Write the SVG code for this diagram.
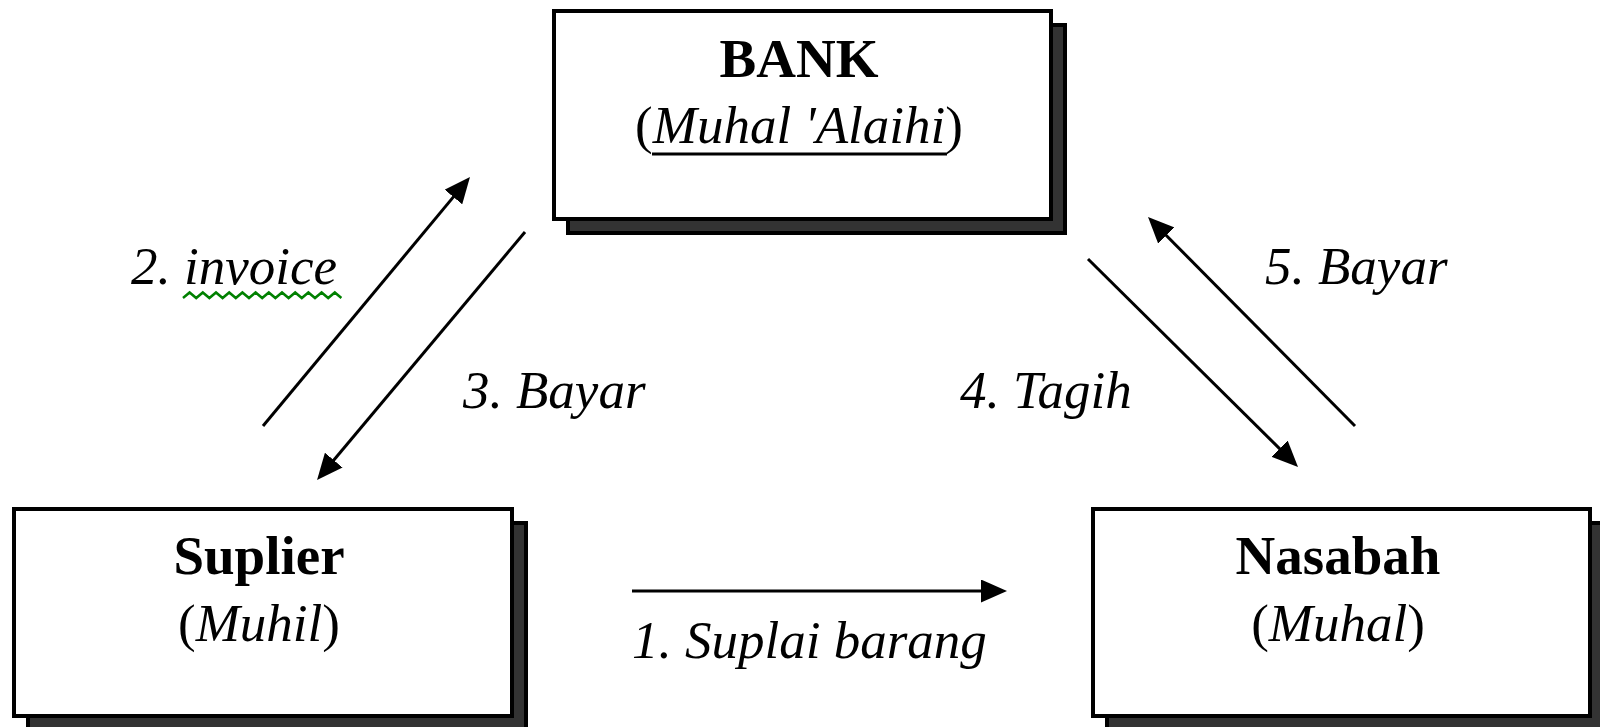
<svg xmlns="http://www.w3.org/2000/svg" width="1600" height="727" viewBox="0 0 1600 727">
  <defs>
    <style>
      .box { fill: #ffffff; stroke: #000000; stroke-width: 4; }
      .shadow { fill: #333333; stroke: #000000; stroke-width: 4; }
      .title { font-family: "Liberation Serif", "Times New Roman", serif; font-weight: bold; font-size: 55px; fill: #000; text-anchor: middle; }
      .sub { font-family: "Liberation Serif", "Times New Roman", serif; font-style: italic; font-size: 53px; fill: #000; text-anchor: middle; }
      .up { font-style: normal; }
      .lbl { font-family: "Liberation Serif", "Times New Roman", serif; font-style: italic; font-size: 53px; fill: #000; }
      .conn { stroke: #000000; stroke-width: 3; fill: none; marker-end: url(#ah); }
      .uline { stroke: #000000; stroke-width: 3; }
      .wavy { stroke: #008000; stroke-width: 2.5; fill: none; }
    </style>
    <marker id="ah" markerUnits="userSpaceOnUse" viewBox="0 0 26 23" markerWidth="26" markerHeight="23" refX="6" refY="11.5" orient="auto">
      <path d="M0,0 L26,11.5 L0,23 z" fill="#000000"/>
    </marker>
  </defs>

  <rect width="1600" height="727" fill="#ffffff"/>

  <g id="node-bank">
    <rect class="shadow" x="568" y="25" width="497" height="208"/>
    <rect class="box" x="554" y="11" width="497" height="208"/>
    <text class="title" x="799" y="77">BANK</text>
    <text class="sub" x="799" y="143"><tspan class="up">(</tspan>Muhal 'Alaihi<tspan class="up">)</tspan></text>
    <line class="uline" x1="652" y1="154" x2="947" y2="154"/>
  </g>

  <g id="node-suplier">
    <rect class="shadow" x="28" y="523" width="498" height="207"/>
    <rect class="box" x="14" y="509" width="498" height="207"/>
    <text class="title" x="259" y="574">Suplier</text>
    <text class="sub" x="259" y="641"><tspan class="up">(</tspan>Muhil<tspan class="up">)</tspan></text>
  </g>

  <g id="node-nasabah">
    <rect class="shadow" x="1107" y="523" width="497" height="207"/>
    <rect class="box" x="1093" y="509" width="497" height="207"/>
    <text class="title" x="1338" y="574">Nasabah</text>
    <text class="sub" x="1338" y="641"><tspan class="up">(</tspan>Muhal<tspan class="up">)</tspan></text>
  </g>

  <g id="connectors">
    <line class="conn" x1="632" y1="591" x2="987" y2="591"/>
    <line class="conn" x1="263" y1="426" x2="457.2" y2="192.4"/>
    <line class="conn" x1="525" y1="232" x2="329.9" y2="464.7"/>
    <line class="conn" x1="1088" y1="259" x2="1283.8" y2="452.9"/>
    <line class="conn" x1="1355" y1="426" x2="1162.1" y2="231.2"/>
  </g>

  <g id="edge-labels">
    <text class="lbl" x="632" y="658">1. Suplai barang</text>
    <text class="lbl" x="131" y="284">2. invoice</text>
    <path class="wavy" d="M183,298 l6.6,-5.5 l6.6,5.5 l6.6,-5.5 l6.6,5.5 l6.6,-5.5 l6.6,5.5 l6.6,-5.5 l6.6,5.5 l6.6,-5.5 l6.6,5.5 l6.6,-5.5 l6.6,5.5 l6.6,-5.5 l6.6,5.5 l6.6,-5.5 l6.6,5.5 l6.6,-5.5 l6.6,5.5 l6.6,-5.5 l6.6,5.5 l6.6,-5.5 l6.6,5.5 l6.6,-5.5 l6.6,5.5"/>
    <text class="lbl" x="463" y="408">3. Bayar</text>
    <text class="lbl" x="960" y="408">4. Tagih</text>
    <text class="lbl" x="1265" y="284">5. Bayar</text>
  </g>
</svg>
